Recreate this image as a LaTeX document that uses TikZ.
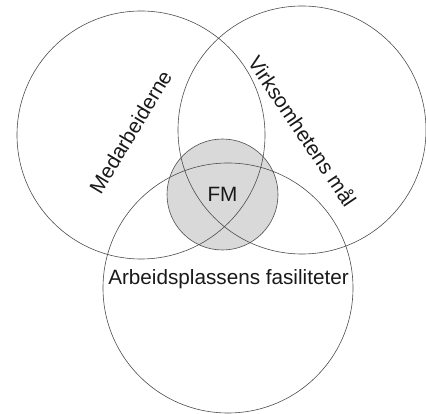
\documentclass[tikz,border=0pt]{standalone}
\usepackage{fontspec}
\setmainfont{Liberation Sans}
\begin{document}
\begin{tikzpicture}[x=1pt,y=-1pt,
  ring/.style={draw=black!70, line width=0.6pt},
  core/.style={fill=black!15},
  label/.style={inner sep=0pt, font=\fontsize{20.7}{24}\selectfont, text=black!90}]
\useasboundingbox (0,0) rectangle (426,414);
% shaded core behind the rings
\fill[core] (222.5,194.5) circle (55.5);
% the three sets
\draw[ring] (141,135) circle (124);
\draw[ring] (302,130) circle (124);
\draw[ring] (228,288) circle (125);
\draw[ring] (222.5,194.5) circle (55.5);
% labels
\node[label, rotate=59] (med) at (130.5,132) {Medarbeiderne};
\node[label, rotate=-56] (virk) at (303,131) {Virksomhetens mål};
\node[label, anchor=base] (arb) at (228.5,284) {Arbeidsplassens fasiliteter};
\node[label] (fm) at (222.5,194.5) {FM};
\end{tikzpicture}
\end{document}
